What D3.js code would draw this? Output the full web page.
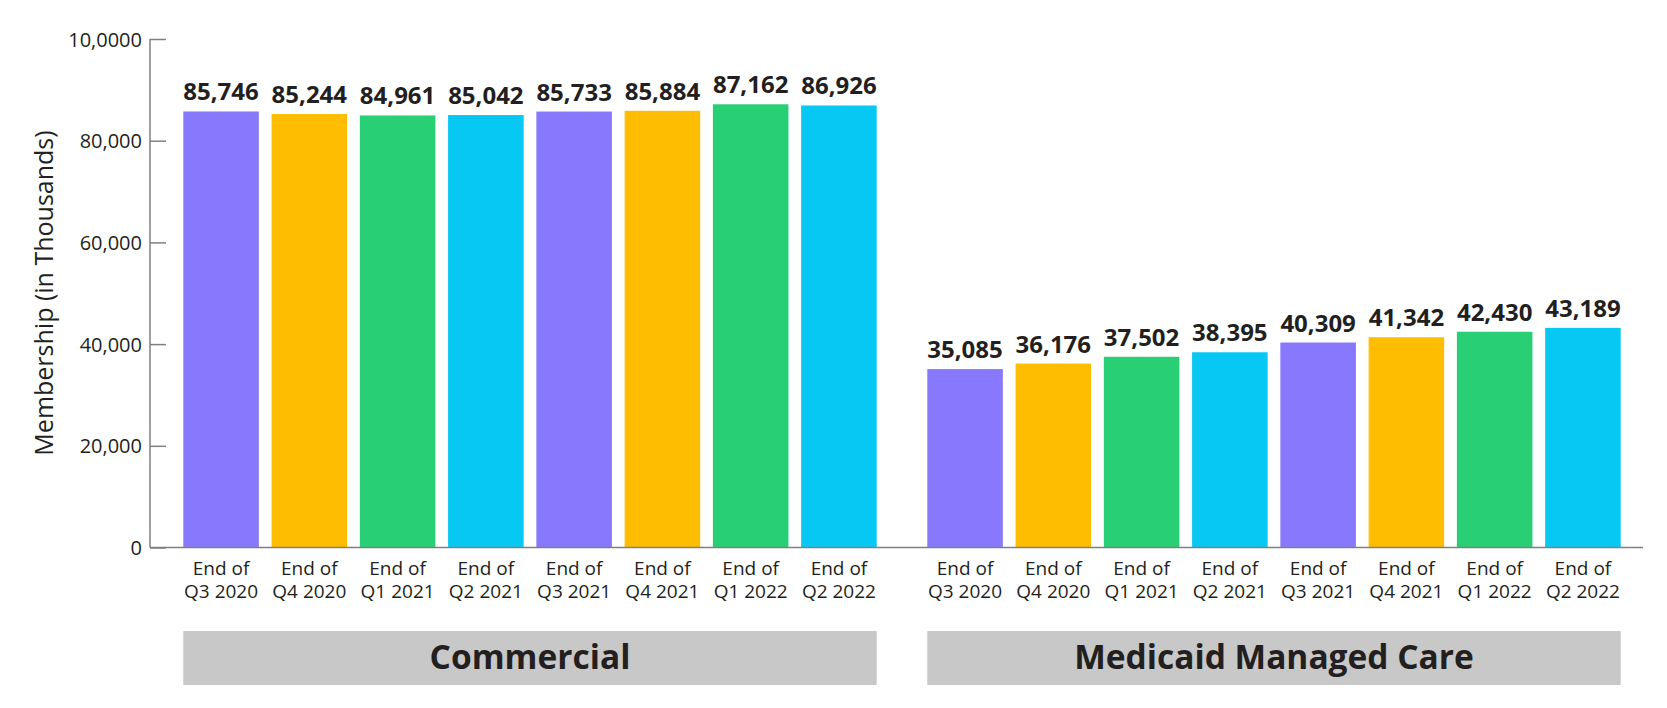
<!DOCTYPE html>
<html>
<head>
<meta charset="utf-8">
<script src="https://cdn.jsdelivr.net/npm/d3@7"></script>
<style>
  body { margin: 0; background: #fff; }
  text { font-family: "Open Sans", sans-serif; fill: #231f20; }
</style>
</head>
<body>
<div id="chart"></div>
<script>
// data
const groups = ["Commercial", "Medicaid Managed Care"];
const quarters = ["Q3 2020", "Q4 2020", "Q1 2021", "Q2 2021", "Q3 2021", "Q4 2021", "Q1 2022", "Q2 2022"];
const commercial = [85746, 85244, 84961, 85042, 85733, 85884, 87162, 86926];
const medicaid = [35085, 36176, 37502, 38395, 40309, 41342, 42430, 43189];
const yTicks = [0, 20000, 40000, 60000, 80000, 100000];
const yTickLabels = ["0", "20,000", "40,000", "60,000", "80,000", "10,0000"];
const colors = ["#8878fe", "#febd00", "#28cf75", "#07c8f2"];

const seriesByGroup = {"Commercial": commercial, "Medicaid Managed Care": medicaid};

const width = 1667, height = 708;

let svg = d3.select("#chart")
  .append("svg")
  .attr("width", width)
  .attr("height", height);

// scales
let x0 = d3.scaleBand()
  .domain(groups)
  .range([183.3, 1620.7])
  .paddingInner(0.068)
  .paddingOuter(0);

let x1 = d3.scaleBand()
  .domain(quarters)
  .range([0, x0.bandwidth()])
  .paddingInner(0.144)
  .paddingOuter(0);

let y = d3.scaleLinear()
  .domain([0, 100000])
  .range([547.5, 39]);

// Y axis (ticks point into the plot)
let yAxis = svg.append("g")
  .attr("transform", "translate(150,0)")
  .call(d3.axisRight(y).tickValues(yTicks).tickSize(16)
    .tickFormat((d, i) => yTickLabels[i]));
yAxis.select(".domain").attr("stroke", "#808080").attr("stroke-width", 1.5)
  .attr("d", "M0," + y(100000) + "V" + y(0));
yAxis.selectAll(".tick line").attr("stroke", "#808080").attr("stroke-width", 1.5);
yAxis.selectAll(".tick text")
  .attr("x", -8)
  .attr("dy", "0.35em")
  .attr("text-anchor", "end")
  .style("font-family", "'Open Sans', sans-serif")
  .style("font-size", "20px")
  .style("fill", "#231f20");

// Y title
svg.append("text")
  .attr("transform", "translate(53," + 293 + ") rotate(-90)")
  .attr("text-anchor", "middle")
  .style("font-size", "25px")
  .text("Membership (in Thousands)");

// bars
groups.forEach((g) => {
  let gg = svg.append("g").attr("transform", "translate(" + x0(g) + ",0)");
  let vals = seriesByGroup[g];

  gg.selectAll("rect")
    .data(vals)
    .enter()
    .append("rect")
    .attr("x", (d, i) => x1(quarters[i]))
    .attr("y", (d) => y(d))
    .attr("width", x1.bandwidth())
    .attr("height", (d) => y(0) - y(d))
    .style("fill", (d, i) => colors[i % 4]);

  gg.selectAll(".val")
    .data(vals)
    .enter()
    .append("text")
    .attr("class", "val")
    .attr("x", (d, i) => x1(quarters[i]) + x1.bandwidth() / 2)
    .attr("y", (d) => y(d) - 11)
    .attr("text-anchor", "middle")
    .style("font-size", "24px")
    .style("font-weight", "bold")
    .text((d) => d3.format(",")(d));

  let lbl = gg.selectAll(".cat")
    .data(quarters)
    .enter()
    .append("text")
    .attr("class", "cat")
    .attr("text-anchor", "middle")
    .style("font-size", "19px");
  lbl.append("tspan")
    .attr("x", (d) => x1(d) + x1.bandwidth() / 2)
    .attr("y", 575)
    .text("End of");
  lbl.append("tspan")
    .attr("x", (d) => x1(d) + x1.bandwidth() / 2)
    .attr("y", 598)
    .text((d) => d);

  // group band
  gg.append("rect")
    .attr("x", 0)
    .attr("y", 631)
    .attr("width", x0.bandwidth())
    .attr("height", 54)
    .style("fill", "#c8c8c8");
  gg.append("text")
    .attr("x", x0.bandwidth() / 2)
    .attr("y", 669)
    .attr("text-anchor", "middle")
    .style("font-size", "33.5px")
    .style("font-weight", "bold")
    .text(g);
});

// baseline
svg.append("line")
  .attr("x1", 150)
  .attr("x2", 1643)
  .attr("y1", y(0))
  .attr("y2", y(0))
  .attr("stroke", "#808080")
  .attr("stroke-width", 1.5);
</script>
</body>
</html>
